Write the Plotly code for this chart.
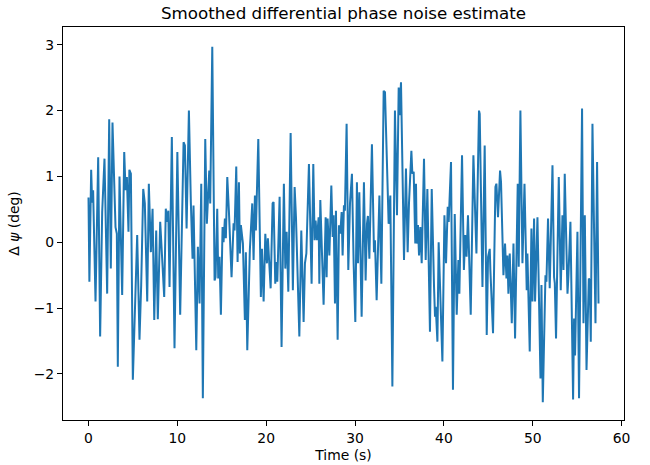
import plotly.graph_objects as go

# Time (s) of each vertex
time_s = [
    0.0, 0.1, 0.30, 0.41, 0.52, 0.79, 1.09, 1.31, 1.54, 1.80, 2.10, 2.33, 2.51, 2.70, 3.04, 3.19, 3.30, 3.49, 3.79, 4.02,
    4.17, 4.32, 4.50, 4.60, 4.77, 4.99, 5.48, 5.74, 5.93, 6.16, 6.34, 6.61, 6.79, 7.02, 7.21, 7.40, 7.62, 7.80, 8.07, 8.25,
    8.52, 8.70, 8.82, 8.98, 9.12, 9.38, 9.68, 10.0, 10.32, 10.70, 10.85, 11.04, 11.30, 11.52, 11.71, 11.82, 12.13, 12.31, 12.50, 12.69,
    12.87, 13.14, 13.32, 13.59, 13.70, 13.93, 14.19, 14.30, 14.49, 14.60, 14.75, 14.90, 15.09, 15.2, 15.35, 15.46, 15.62, 15.80, 16.10, 16.33,
    16.44, 16.63, 16.78, 16.93, 17.04, 17.15, 17.38, 17.60, 17.71, 17.87, 18.16, 18.43, 18.58, 18.73, 18.84, 19.11, 19.40, 19.52, 19.71, 19.90,
    20.08, 20.19, 20.50, 20.72, 20.83, 21.02, 21.14, 21.25, 21.51, 21.73, 21.99, 22.15, 22.30, 22.49, 22.75, 23.0, 23.2, 23.35, 23.73, 23.95,
    24.21, 24.36, 24.52, 24.81, 25.11, 25.30, 25.45, 25.56, 25.71, 25.90, 25.98, 26.09, 26.46, 26.69, 26.80, 26.91, 27.11, 27.33, 27.48, 27.59,
    27.74, 27.85, 28.04, 28.19, 28.34, 28.49, 28.60, 28.75, 28.86, 29.05, 29.24, 29.43, 29.65, 29.84, 30.03, 30.21, 30.33, 30.48, 30.74, 31.0,
    31.19, 31.34, 31.45, 31.61, 31.90, 32.13, 32.24, 32.43, 32.74, 32.96, 33.22, 33.37, 33.67, 33.78, 33.97, 34.20, 34.49, 34.72, 34.91, 35.02,
    35.17, 35.51, 35.73, 35.92, 36.07, 36.34, 36.45, 36.6, 36.78, 36.86, 36.94, 37.08, 37.2, 37.35, 37.5, 37.76, 37.95, 38.14, 38.43, 38.63,
    38.89, 39.0, 39.08, 39.27, 39.41, 39.83, 40.06, 40.24, 40.43, 40.54, 40.80, 41.02, 41.22, 41.44, 41.63, 41.74, 42.04, 42.25, 42.4, 42.55,
    42.71, 43.02, 43.32, 43.66, 43.95, 44.03, 44.34, 44.59, 44.82, 44.97, 45.16, 45.23, 45.53, 45.80, 45.91, 46.09, 46.32, 46.43, 46.70, 46.88,
    47.04, 47.15, 47.26, 47.41, 47.64, 47.83, 48.01, 48.31, 48.42, 48.61, 48.84, 49.07, 49.32, 49.40, 49.66, 49.85, 49.97, 50.15, 50.26, 50.53,
    50.87, 50.98, 51.13, 51.43, 51.54, 51.72, 51.91, 52.22, 52.40, 52.48, 52.62, 52.93, 53.15, 53.34, 53.46, 53.60, 53.91, 54.02, 54.24, 54.54,
    54.65, 54.76, 55.03, 55.21, 55.55, 55.71, 55.86, 56.05, 56.31, 56.42, 56.53, 56.72, 57.06, 57.24, 57.4,
]

# Delta psi (deg) at each vertex
delta_psi = [
    0.68, -0.6, 1.1, 0.6, 0.79, -0.9, 1.29, -1.43, 0.46, 1.27, -0.78, 1.87, -0.4, 1.82, 0.23, 0.13, -1.89, 1.0, -0.8, 1.37,
    0.79, 0.99, 0.16, 1.1, 1.04, -2.09, 0.11, -1.48, -0.65, 0.81, 0.59, -0.9, 0.89, -0.15, 0.51, -1.18, 0.18, -1.17, 0.31, -0.1,
    -0.83, 0.51, 0.31, 0.48, -0.68, 1.6, -1.61, 1.37, -1.1, 1.52, 1.47, 0.21, 2.0, 0.6, -0.25, 0.56, -1.64, -0.07, -0.93, 0.89,
    -2.37, 1.57, 0.28, 1.09, 0.59, 2.97, -0.58, -0.53, 0.51, -0.55, -0.22, -1.1, 0.23, 0.0, 0.36, 0.06, 0.99, 0.48, -0.53, 0.29,
    0.18, 1.15, -0.3, 0.91, -0.17, 0.26, -0.02, -1.18, -0.15, -1.64, -0.12, 0.59, -0.27, 0.71, 0.18, 1.57, -0.83, -0.1, -0.9, 0.13,
    -0.32, 0.06, -0.7, 0.59, 0.61, -0.63, -0.3, -0.6, 0.69, -1.59, 0.89, -0.4, 0.16, -0.75, 1.66, -0.73, 0.84, 0.38, -1.43, 0.18,
    -1.21, -0.32, -0.17, 1.19, -0.63, 1.19, 0.03, 0.33, 0.03, 0.38, -0.63, 0.64, -0.95, 0.38, -0.53, 0.36, -0.2, 0.86, 0.08, 0.41,
    -0.93, 0.48, -1.48, 0.26, 0.13, 0.46, -0.2, 0.56, 0.48, 1.8, -0.42, 0.59, 1.04, -0.32, -1.21, 0.91, -0.32, 0.76, -1.13, 0.91,
    -0.58, 0.28, 0.4, -0.25, 1.49, -0.15, 0.03, -0.88, 0.71, -0.63, 2.3, 2.28, 0.81, 0.28, 0.71, -2.19, 2.0, 0.41, 2.35, 1.93,
    2.43, -0.27, 1.12, -0.15, 0.59, 1.39, 1.04, 1.07, -0.02, 0.89, -0.02, 0.26, -0.2, 0.23, -0.32, 1.27, -0.27, 0.81, -1.36, 0.81,
    -0.68, -1.13, -0.98, -1.51, 0.0, -1.81, 0.41, -0.32, 0.54, 0.31, 1.22, -2.24, 0.43, -1.1, -0.27, -0.78, 1.32, -0.42, 0.11, -0.22,
    0.41, -1.1, 1.32, -0.17, 2.0, 1.95, -0.68, 1.47, -1.41, -0.22, -0.1, -0.42, -1.38, 0.84, 0.89, 0.38, 1.09, 0.91, -0.5, -0.02,
    -0.55, -0.2, -0.78, -0.17, -1.23, -0.02, -1.46, 0.89, -0.37, 2.0, -0.32, 0.89, -0.73, -0.17, -1.66, 0.21, -0.9, 0.36, -0.9, 0.38,
    -2.07, -0.65, -2.43, -0.5, -0.6, 0.36, -0.7, 1.17, -0.53, -0.62, -1.46, 0.99, -0.73, 0.41, -0.42, 1.04, -0.78, -0.5, 0.31, -2.39,
    -1.16, -1.72, 0.16, -2.37, 2.03, -1.23, 0.41, -1.94, -0.55, -0.58, -1.51, 1.8, -1.23, 1.22, -0.93,
]

x_ticks = [0, 10, 20, 30, 40, 50, 60]
y_ticks = [-2, -1, 0, 1, 2, 3]

fig = go.Figure()
fig.add_trace(go.Scatter(
    x=time_s, y=delta_psi, mode="lines",
    line=dict(color="#1f77b4", width=2),
    showlegend=False, hoverinfo="x+y",
))

axis_common = dict(
    showline=True, linecolor="black", linewidth=1.1, mirror=True,
    ticks="outside", ticklen=5, tickwidth=1.1, tickcolor="black",
    showgrid=False, zeroline=False, automargin=False,
    tickfont=dict(family="DejaVu Sans", size=13.9, color="black"),
)

fig.update_layout(
    width=650, height=465,
    paper_bgcolor="white", plot_bgcolor="white",
    margin=dict(l=63, r=26, t=27, b=45, autoexpand=False),
    title=dict(text="Smoothed differential phase noise estimate",
               x=0.5, xref="paper", xanchor="center",
               y=1 - 13 / 465, yref="container", yanchor="middle",
               font=dict(family="DejaVu Sans", size=16.7, color="black"),
               automargin=False),
    font=dict(family="DejaVu Sans", color="black"),
    xaxis=dict(range=[-2.87, 60.27], tickvals=x_ticks,
               title=dict(text="Time (s)", standoff=5,
                          font=dict(family="DejaVu Sans", size=13.9, color="black")),
               **axis_common),
    yaxis=dict(range=[-2.70, 3.27], tickvals=y_ticks,
               title=dict(text="Δ <i>ψ</i> (deg)", standoff=10,
                          font=dict(family="DejaVu Sans", size=13.9, color="black")),
               **axis_common),
)

fig.write_html(
    "out.html",
    config={"displayModeBar": False},
    post_script="document.body.style.margin='0';document.body.style.padding='0';",
)
